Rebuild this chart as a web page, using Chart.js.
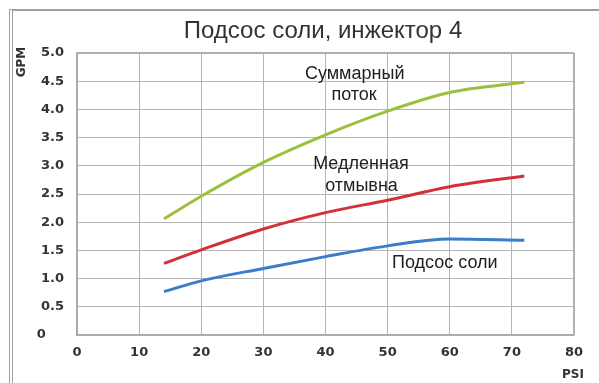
<!DOCTYPE html>
<html>
<head>
<meta charset="utf-8">
<script src="https://cdn.jsdelivr.net/npm/chart.js@4/dist/chart.umd.min.js"></script>
<style>
  html, body { margin: 0; padding: 0; background: #fff; overflow: hidden; }
  #wrap { position: relative; width: 599px; height: 383px; }
  #frame { position: absolute; left: 9px; top: 9px; width: 620px; height: 420px;
           border-top: 2px solid #a0a0a0; border-left: 4px double #a0a0a0; }
  #c { position: absolute; left: 0; top: 0; }
</style>
</head>
<body>
<div id="wrap">
  <div id="frame"></div>
  <canvas id="c" width="599" height="383"></canvas>
</div>
<script>
// давление, PSI
var psi = [14, 20, 30, 40, 50, 60, 72];
// расход, GPM
var totalFlow = [2.06, 2.46, 3.06, 3.55, 3.97, 4.30, 4.48];
var slowRinse = [1.27, 1.51, 1.88, 2.17, 2.39, 2.63, 2.82];
var brineDraw = [0.77, 0.96, 1.18, 1.39, 1.58, 1.70, 1.68];

var xTicks = [0, 10, 20, 30, 40, 50, 60, 70, 80];
var yTicks = [0, 0.5, 1, 1.5, 2, 2.5, 3, 3.5, 4, 4.5, 5];

var titleText = "Подсос соли, инжектор 4";
var labels = [
  { text: "Суммарный", x: 44.7, y: 4.63 },
  { text: "поток", x: 44.6, y: 4.25 },
  { text: "Медленная", x: 45.7, y: 3.04 },
  { text: "отмывна", x: 45.8, y: 2.65 },
  { text: "Подсос соли", x: 59.2, y: 1.28 }
];

function pts(ys) {
  return psi.map(function (x, i) { return { x: x, y: ys[i] }; });
}

function line(label, ys, color) {
  return {
    label: label,
    data: pts(ys),
    borderColor: color,
    backgroundColor: color,
    borderWidth: 3,
    pointRadius: 0,
    fill: false,
    cubicInterpolationMode: 'monotone'
  };
}

var textPlugin = {
  id: 'texts',
  afterDraw: function (chart) {
    var ctx = chart.ctx;
    var xs = chart.scales.x, ys = chart.scales.y;
    ctx.save();
    ctx.fillStyle = '#333';
    ctx.textAlign = 'center';
    ctx.textBaseline = 'middle';
    ctx.font = '24px "Liberation Sans", Arial, sans-serif';
    ctx.fillText(titleText, 323, 31);

    ctx.fillStyle = '#1e1e1e';
    ctx.font = '18px "Liberation Sans", Arial, sans-serif';
    labels.forEach(function (l) {
      ctx.fillText(l.text, xs.getPixelForValue(l.x), ys.getPixelForValue(l.y));
    });

    ctx.fillStyle = '#333';
    ctx.font = 'bold 12px "DejaVu Sans", sans-serif';
    ctx.fillText('PSI', 573, 375);
    ctx.translate(22, 62);
    ctx.rotate(-Math.PI / 2);
    ctx.fillText('GPM', 0, 0);
    ctx.restore();
  }
};

new Chart(document.getElementById('c'), {
  type: 'line',
  data: {
    datasets: [
      line('Суммарный поток', totalFlow, '#9cc03c'),
      line('Медленная отмывка', slowRinse, '#d2303b'),
      line('Подсос соли', brineDraw, '#3b7dc9')
    ]
  },
  options: {
    responsive: false,
    animation: false,
    layout: { padding: { left: 0, top: 53, right: 25, bottom: 0 } },
    plugins: { legend: { display: false }, tooltip: { enabled: false } },
    scales: {
      x: {
        type: 'linear', min: 0, max: 80,
        afterFit: function (s) { s.height = 48; },
        afterBuildTicks: function (s) { s.ticks = xTicks.map(function (v) { return { value: v }; }); },
        grid: { color: '#b4b4b4', lineWidth: 1, drawTicks: false },
        border: { color: '#a8a8a8', width: 1.5 },
        ticks: { padding: 10, color: '#333', font: { family: '"DejaVu Sans", sans-serif', size: 13, weight: 'bold' } }
      },
      y: {
        min: 0, max: 5,
        afterFit: function (s) { s.width = 77; },
        afterBuildTicks: function (s) { s.ticks = yTicks.map(function (v) { return { value: v }; }); },
        grid: { color: '#b4b4b4', lineWidth: 1, drawTicks: false },
        border: { color: '#a8a8a8', width: 1.5 },
        ticks: {
          padding: 13, color: '#333',
          font: { family: '"DejaVu Sans", sans-serif', size: 13, weight: 'bold' },
          callback: function (v) { return v === 0 ? '0    ' : v.toFixed(1); }
        }
      }
    }
  },
  plugins: [textPlugin, {
    id: 'rightBorder',
    beforeDatasetsDraw: function (chart) {
      var a = chart.chartArea, ctx = chart.ctx;
      ctx.save();
      ctx.strokeStyle = '#b0b0b0';
      ctx.lineWidth = 2;
      ctx.beginPath();
      ctx.moveTo(a.right, a.top);
      ctx.lineTo(a.right, a.bottom);
      ctx.moveTo(a.left, a.top);
      ctx.lineTo(a.right, a.top);
      ctx.stroke();
      ctx.restore();
    }
  }]
});
</script>
</body>
</html>
